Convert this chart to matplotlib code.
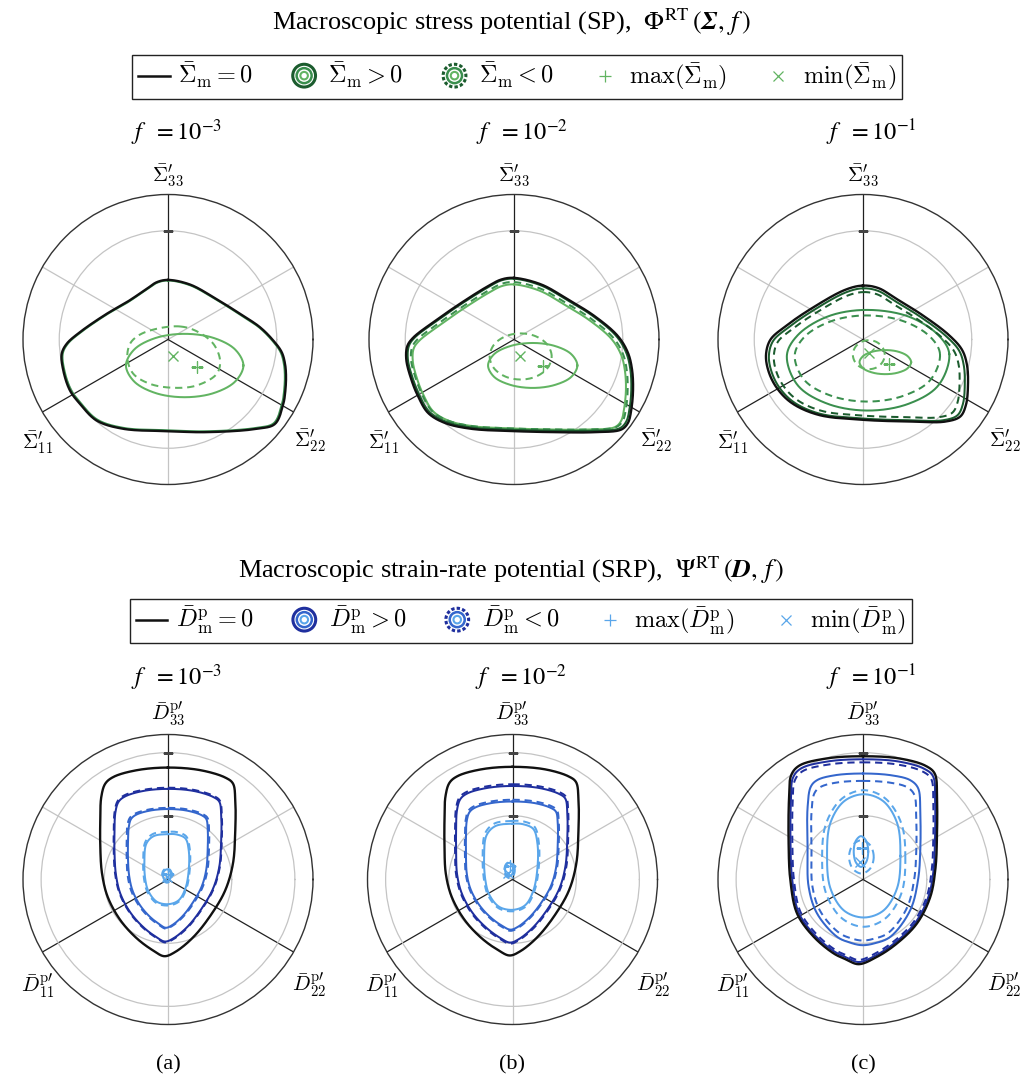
import numpy as np
import matplotlib
matplotlib.use("Agg")
import matplotlib.pyplot as plt
from matplotlib.lines import Line2D
from matplotlib.patches import Circle
from matplotlib.legend_handler import HandlerBase
from matplotlib.mathtext import MathTextParser
from matplotlib.font_manager import FontProperties

plt.rcParams["mathtext.fontset"] = "cm"
plt.rcParams["font.family"] = ["Liberation Serif", "DejaVu Serif"]

# ---------------------------------------------------------------------------
# Yield-surface traces in the deviatoric plane, (x, y) in units of the outer
# circle radius.  x points right, y points up (towards the 33 axis).
# ---------------------------------------------------------------------------

# ---- stress potential, f = 1e-3 -------------------------------------------
SP_A_ZERO = [(0.000, 0.411), (0.152, 0.379), (0.313, 0.292), (0.497, 0.177), (0.634, 0.085),
             (0.726, -0.007), (0.784, -0.087), (0.807, -0.168), (0.814, -0.260), (0.807, -0.375),
             (0.795, -0.444), (0.738, -0.582), (0.611, -0.616), (0.267, -0.639), (0.000, -0.632),
             (-0.308, -0.616), (-0.492, -0.559), (-0.607, -0.444), (-0.676, -0.352), (-0.722, -0.214),
             (-0.733, -0.099), (-0.699, -0.030), (-0.607, 0.051), (-0.423, 0.177), (-0.285, 0.257),
             (-0.147, 0.349), (-0.078, 0.395)]
SP_A_POS2 = [(0.000, 0.407), (0.150, 0.375), (0.310, 0.289), (0.492, 0.175), (0.628, 0.084),
             (0.719, -0.007), (0.776, -0.086), (0.799, -0.166), (0.806, -0.257), (0.799, -0.371),
             (0.787, -0.440), (0.731, -0.576), (0.605, -0.610), (0.264, -0.633), (0.000, -0.626),
             (-0.305, -0.610), (-0.487, -0.553), (-0.601, -0.440), (-0.669, -0.348), (-0.715, -0.212),
             (-0.726, -0.098), (-0.692, -0.030), (-0.601, 0.050), (-0.419, 0.175), (-0.282, 0.254),
             (-0.146, 0.346), (-0.077, 0.391)]
SP_A_POS3 = [(0.520, -0.179), (0.464, -0.070), (0.317, 0.010), (0.115, 0.039), (-0.087, 0.010),
             (-0.234, -0.070), (-0.290, -0.179), (-0.234, -0.289), (-0.087, -0.369), (0.115, -0.398),
             (0.317, -0.369), (0.464, -0.289)]
SP_A_NEG3 = [(0.083, 0.090), (0.198, 0.057), (0.313, -0.030), (0.359, -0.145), (0.336, -0.237),
             (0.198, -0.317), (0.037, -0.333), (-0.124, -0.306), (-0.239, -0.237), (-0.280, -0.133),
             (-0.262, -0.030), (-0.200, 0.030), (-0.078, 0.074)]
SP_A_MAX = (0.198, -0.191)
SP_A_MIN = (0.037, -0.115)

# ---- stress potential, f = 1e-2 -------------------------------------------
SP_B_ZERO = [(0.000, 0.425), (0.189, 0.379), (0.372, 0.276), (0.556, 0.161), (0.717, 0.023),
             (0.786, -0.092), (0.814, -0.207), (0.821, -0.345), (0.809, -0.483), (0.786, -0.575),
             (0.740, -0.621), (0.556, -0.639), (0.280, -0.639), (0.000, -0.632), (-0.294, -0.616),
             (-0.478, -0.575), (-0.593, -0.506), (-0.662, -0.391), (-0.708, -0.276), (-0.743, -0.138),
             (-0.736, -0.046), (-0.697, 0.011), (-0.547, 0.126), (-0.363, 0.253), (-0.179, 0.368),
             (-0.087, 0.414)]
SP_B_POS1 = [(0.000, 0.419), (0.186, 0.373), (0.366, 0.272), (0.548, 0.159), (0.706, 0.023),
             (0.774, -0.091), (0.802, -0.204), (0.809, -0.340), (0.797, -0.476), (0.774, -0.566),
             (0.729, -0.612), (0.548, -0.629), (0.276, -0.629), (0.000, -0.623), (-0.290, -0.607),
             (-0.471, -0.566), (-0.584, -0.498), (-0.652, -0.385), (-0.697, -0.272), (-0.732, -0.136),
             (-0.725, -0.045), (-0.687, 0.011), (-0.539, 0.124), (-0.358, 0.249), (-0.176, 0.362),
             (-0.086, 0.408)]
SP_B_NEG1 = [(0.000, 0.396), (0.180, 0.352), (0.355, 0.254), (0.531, 0.144), (0.685, 0.012),
             (0.751, -0.098), (0.777, -0.208), (0.784, -0.339), (0.773, -0.471), (0.751, -0.559),
             (0.707, -0.603), (0.531, -0.620), (0.267, -0.620), (0.000, -0.614), (-0.281, -0.598),
             (-0.456, -0.559), (-0.566, -0.493), (-0.632, -0.383), (-0.676, -0.274), (-0.710, -0.142),
             (-0.703, -0.054), (-0.666, 0.001), (-0.522, 0.110), (-0.347, 0.232), (-0.171, 0.341),
             (-0.083, 0.385)]
SP_B_POS2 = [(0.000, 0.380), (0.178, 0.336), (0.350, 0.239), (0.523, 0.131), (0.674, 0.002),
             (0.739, -0.106), (0.765, -0.215), (0.772, -0.344), (0.760, -0.474), (0.739, -0.561),
             (0.696, -0.604), (0.523, -0.621), (0.263, -0.621), (0.000, -0.614), (-0.276, -0.599),
             (-0.449, -0.561), (-0.557, -0.496), (-0.622, -0.388), (-0.666, -0.279), (-0.698, -0.150),
             (-0.692, -0.063), (-0.655, -0.010), (-0.514, 0.098), (-0.341, 0.218), (-0.168, 0.326),
             (-0.082, 0.369)]
SP_B_POS3 = [(0.437, -0.179), (0.396, -0.102), (0.283, -0.045), (0.129, -0.024), (-0.025, -0.045),
             (-0.138, -0.102), (-0.179, -0.179), (-0.138, -0.257), (-0.025, -0.313), (0.129, -0.334),
             (0.283, -0.313), (0.396, -0.257)]
SP_B_NEG3 = [(0.260, -0.117), (0.231, -0.037), (0.153, 0.021), (0.046, 0.042), (-0.061, 0.021),
             (-0.139, -0.037), (-0.168, -0.117), (-0.139, -0.197), (-0.061, -0.255), (0.046, -0.276),
             (0.153, -0.255), (0.231, -0.197)]
SP_B_MAX = (0.200, -0.184)
SP_B_MIN = (0.039, -0.115)

# ---- stress potential, f = 1e-1 -------------------------------------------
SP_C_ZERO = [(0.000, 0.372), (0.108, 0.354), (0.223, 0.285), (0.407, 0.170), (0.591, 0.032),
             (0.683, -0.071), (0.717, -0.175), (0.724, -0.313), (0.710, -0.451), (0.671, -0.531),
             (0.568, -0.566), (0.338, -0.566), (0.000, -0.554), (-0.306, -0.520), (-0.490, -0.439),
             (-0.593, -0.336), (-0.651, -0.221), (-0.669, -0.106), (-0.639, -0.002), (-0.536, 0.090),
             (-0.352, 0.216), (-0.122, 0.343)]
SP_C_POS1 = [(0.000, 0.353), (0.105, 0.335), (0.216, 0.268), (0.395, 0.157), (0.573, 0.023),
             (0.663, -0.077), (0.695, -0.178), (0.702, -0.312), (0.689, -0.445), (0.651, -0.523),
             (0.551, -0.557), (0.328, -0.557), (0.000, -0.545), (-0.297, -0.512), (-0.475, -0.434),
             (-0.575, -0.334), (-0.631, -0.222), (-0.649, -0.111), (-0.620, -0.010), (-0.520, 0.079),
             (-0.341, 0.202), (-0.118, 0.325)]
SP_C_NEG1 = [(0.000, 0.327), (0.099, 0.311), (0.205, 0.247), (0.374, 0.141), (0.544, 0.014),
             (0.628, -0.080), (0.660, -0.176), (0.666, -0.303), (0.653, -0.430), (0.617, -0.504),
             (0.523, -0.536), (0.311, -0.536), (0.000, -0.525), (-0.282, -0.493), (-0.451, -0.419),
             (-0.546, -0.324), (-0.599, -0.218), (-0.615, -0.113), (-0.588, -0.017), (-0.493, 0.068),
             (-0.324, 0.184), (-0.112, 0.301)]
SP_C_POS2 = [(0.595, -0.100), (0.520, 0.030), (0.315, 0.158), (0.020, 0.204), (-0.245, 0.158),
             (-0.450, 0.030), (-0.525, -0.110), (-0.450, -0.316), (-0.245, -0.443), (0.035, -0.490),
             (0.315, -0.443), (0.520, -0.316)]
SP_C_NEG2 = [(0.531, -0.100), (0.464, 0.018), (0.280, 0.126), (0.020, 0.166), (-0.220, 0.126),
             (-0.404, 0.018), (-0.471, -0.110), (-0.404, -0.280), (-0.220, -0.388), (0.030, -0.428),
             (0.280, -0.388), (0.464, -0.280)]
SP_C_POS3 = [(0.332, -0.156), (0.308, -0.115), (0.243, -0.084), (0.154, -0.073), (0.065, -0.084),
             (0.000, -0.115), (-0.024, -0.156), (0.000, -0.198), (0.065, -0.228), (0.154, -0.239),
             (0.243, -0.228), (0.308, -0.198)]
SP_C_NEG3 = [(0.150, -0.105), (0.135, -0.055), (0.095, -0.018), (0.040, -0.005), (-0.015, -0.018),
             (-0.055, -0.055), (-0.070, -0.105), (-0.055, -0.155), (-0.015, -0.192), (0.040, -0.205),
             (0.095, -0.192), (0.135, -0.155)]
SP_C_MAX = (0.182, -0.170)
SP_C_MIN = (0.044, -0.094)

# ---- strain-rate potential, f = 1e-3 --------------------------------------
SRP_A_ZERO = [(0.000, 0.772), (0.223, 0.754), (0.395, 0.703), (0.448, 0.662), (0.464, 0.547),
              (0.464, 0.340), (0.448, 0.110), (0.395, -0.074), (0.303, -0.234), (0.177, -0.395),
              (0.051, -0.499), (-0.025, -0.529), (-0.099, -0.492), (-0.214, -0.407), (-0.329, -0.280),
              (-0.416, -0.120), (-0.455, 0.041), (-0.467, 0.225), (-0.467, 0.409), (-0.460, 0.570),
              (-0.432, 0.662), (-0.375, 0.708), (-0.214, 0.754)]
SRP_A_POS1 = [(0.000, 0.625), (0.176, 0.611), (0.312, 0.569), (0.354, 0.536), (0.367, 0.443),
              (0.367, 0.275), (0.354, 0.089), (0.312, -0.060), (0.239, -0.190), (0.140, -0.320),
              (0.040, -0.404), (-0.020, -0.428), (-0.078, -0.399), (-0.169, -0.330), (-0.260, -0.227),
              (-0.329, -0.097), (-0.359, 0.033), (-0.369, 0.182), (-0.369, 0.331), (-0.363, 0.462),
              (-0.341, 0.536), (-0.296, 0.573), (-0.169, 0.611)]
SRP_A_NEG1 = [(0.000, 0.633), (0.178, 0.618), (0.316, 0.576), (0.358, 0.543), (0.371, 0.449),
              (0.371, 0.279), (0.358, 0.090), (0.316, -0.061), (0.242, -0.192), (0.142, -0.324),
              (0.041, -0.409), (-0.020, -0.434), (-0.079, -0.403), (-0.171, -0.334), (-0.263, -0.230),
              (-0.333, -0.098), (-0.364, 0.034), (-0.374, 0.185), (-0.374, 0.335), (-0.368, 0.467),
              (-0.346, 0.543), (-0.300, 0.581), (-0.171, 0.618)]
SRP_A_POS2 = [(0.000, 0.486), (0.132, 0.475), (0.233, 0.443), (0.264, 0.417), (0.274, 0.345),
              (0.274, 0.214), (0.264, 0.069), (0.233, -0.047), (0.179, -0.147), (0.104, -0.249),
              (0.030, -0.314), (-0.015, -0.333), (-0.058, -0.310), (-0.126, -0.256), (-0.194, -0.176),
              (-0.245, -0.076), (-0.268, 0.026), (-0.276, 0.142), (-0.276, 0.258), (-0.271, 0.359),
              (-0.255, 0.417), (-0.221, 0.446), (-0.126, 0.475)]
SRP_A_NEG2 = [(0.000, 0.494), (0.136, 0.483), (0.241, 0.450), (0.273, 0.424), (0.283, 0.350),
              (0.283, 0.218), (0.273, 0.070), (0.241, -0.047), (0.185, -0.150), (0.108, -0.253),
              (0.031, -0.319), (-0.015, -0.339), (-0.060, -0.315), (-0.131, -0.260), (-0.201, -0.179),
              (-0.254, -0.077), (-0.278, 0.026), (-0.285, 0.144), (-0.285, 0.262), (-0.281, 0.365),
              (-0.264, 0.424), (-0.229, 0.453), (-0.131, 0.483)]
SRP_A_POS3 = [(0.000, 0.313), (-0.099, 0.299), (-0.149, 0.248), (-0.163, 0.133), (-0.156, -0.005),
              (-0.133, -0.085), (-0.076, -0.154), (0.005, -0.170), (0.074, -0.143), (0.120, -0.062),
              (0.143, 0.064), (0.143, 0.202), (0.120, 0.283), (0.062, 0.310)]
SRP_A_NEG3 = [(0.000, 0.329), (-0.104, 0.314), (-0.156, 0.260), (-0.171, 0.140), (-0.164, -0.005),
              (-0.140, -0.089), (-0.080, -0.162), (0.005, -0.179), (0.078, -0.150), (0.126, -0.065),
              (0.150, 0.067), (0.150, 0.212), (0.126, 0.297), (0.065, 0.326)]
SRP_A_POS4 = [(0.021, 0.030), (0.013, 0.058), (-0.007, 0.070), (-0.027, 0.058), (-0.035, 0.030),
              (-0.027, 0.002), (-0.007, -0.010), (0.013, 0.002)]
SRP_A_NEG4 = [(0.027, 0.028), (0.017, 0.063), (-0.007, 0.078), (-0.031, 0.063), (-0.041, 0.028),
              (-0.031, -0.007), (-0.007, -0.022), (0.017, -0.007)]
SRP_A_MAX = (0.000, 0.035)
SRP_A_MIN = (-0.007, 0.020)

# ---- strain-rate potential, f = 1e-2 --------------------------------------
SRP_B_ZERO = [(0.000, 0.777), (0.223, 0.760), (0.385, 0.712), (0.438, 0.672), (0.455, 0.555),
              (0.455, 0.340), (0.440, 0.110), (0.390, -0.074), (0.300, -0.234), (0.177, -0.392),
              (0.055, -0.494), (-0.020, -0.524), (-0.096, -0.489), (-0.214, -0.404), (-0.331, -0.278),
              (-0.420, -0.118), (-0.460, 0.041), (-0.469, 0.225), (-0.469, 0.409), (-0.462, 0.575),
              (-0.434, 0.668), (-0.377, 0.714), (-0.214, 0.760)]
SRP_B_POS1 = [(0.000, 0.645), (0.185, 0.631), (0.320, 0.591), (0.364, 0.558), (0.378, 0.461),
              (0.378, 0.282), (0.365, 0.091), (0.324, -0.061), (0.249, -0.194), (0.147, -0.325),
              (0.046, -0.410), (-0.017, -0.435), (-0.080, -0.406), (-0.178, -0.335), (-0.275, -0.231),
              (-0.349, -0.098), (-0.382, 0.034), (-0.389, 0.187), (-0.389, 0.339), (-0.383, 0.477),
              (-0.360, 0.554), (-0.313, 0.593), (-0.178, 0.631)]
SRP_B_NEG1 = [(0.000, 0.657), (0.188, 0.642), (0.325, 0.602), (0.370, 0.568), (0.384, 0.469),
              (0.384, 0.287), (0.372, 0.093), (0.330, -0.063), (0.254, -0.198), (0.150, -0.331),
              (0.046, -0.417), (-0.017, -0.443), (-0.081, -0.413), (-0.181, -0.341), (-0.280, -0.235),
              (-0.355, -0.100), (-0.389, 0.035), (-0.396, 0.190), (-0.396, 0.346), (-0.390, 0.486),
              (-0.367, 0.564), (-0.319, 0.603), (-0.181, 0.642)]
SRP_B_POS2 = [(0.000, 0.538), (0.153, 0.527), (0.264, 0.494), (0.300, 0.467), (0.312, 0.387),
              (0.312, 0.241), (0.301, 0.085), (0.267, -0.040), (0.206, -0.149), (0.121, -0.257),
              (0.038, -0.326), (-0.014, -0.346), (-0.066, -0.323), (-0.147, -0.265), (-0.227, -0.179),
              (-0.288, -0.070), (-0.315, 0.038), (-0.321, 0.163), (-0.321, 0.288), (-0.316, 0.401),
              (-0.297, 0.464), (-0.258, 0.496), (-0.147, 0.527)]
SRP_B_NEG2 = [(0.000, 0.550), (0.156, 0.538), (0.270, 0.505), (0.307, 0.477), (0.319, 0.396),
              (0.319, 0.246), (0.308, 0.086), (0.273, -0.041), (0.210, -0.153), (0.124, -0.262),
              (0.039, -0.333), (-0.014, -0.354), (-0.067, -0.330), (-0.150, -0.271), (-0.232, -0.183),
              (-0.294, -0.072), (-0.322, 0.038), (-0.328, 0.166), (-0.328, 0.294), (-0.323, 0.410),
              (-0.304, 0.474), (-0.264, 0.506), (-0.150, 0.538)]
SRP_B_POS3 = [(0.000, 0.385), (-0.119, 0.368), (-0.179, 0.305), (-0.196, 0.164), (-0.187, -0.006),
              (-0.160, -0.105), (-0.091, -0.189), (0.006, -0.209), (0.089, -0.176), (0.144, -0.076),
              (0.172, 0.079), (0.172, 0.248), (0.144, 0.348), (0.074, 0.381)]
SRP_B_NEG3 = [(0.000, 0.404), (-0.125, 0.386), (-0.188, 0.320), (-0.206, 0.172), (-0.196, -0.006),
              (-0.168, -0.110), (-0.096, -0.198), (0.006, -0.219), (0.093, -0.185), (0.151, -0.080),
              (0.181, 0.083), (0.181, 0.260), (0.151, 0.365), (0.078, 0.400)]
SRP_B_POS4 = [(0.005, 0.069), (-0.003, 0.102), (-0.023, 0.115), (-0.043, 0.102), (-0.051, 0.069),
              (-0.043, 0.036), (-0.023, 0.023), (-0.003, 0.036)]
SRP_B_NEG4 = [(0.016, 0.065), (0.005, 0.105), (-0.020, 0.121), (-0.045, 0.105), (-0.056, 0.065),
              (-0.045, 0.025), (-0.020, 0.009), (0.005, 0.025)]
SRP_B_MAX = (-0.016, 0.092)
SRP_B_MIN = (-0.028, 0.046)

# ---- strain-rate potential, f = 1e-1 --------------------------------------
SRP_C_ZERO = [(0.000, 0.850), (0.250, 0.835), (0.430, 0.785), (0.495, 0.730), (0.510, 0.560),
              (0.510, 0.300), (0.500, 0.080), (0.464, -0.120), (0.372, -0.303), (0.234, -0.441),
              (0.097, -0.533), (-0.030, -0.584), (-0.120, -0.550), (-0.202, -0.510), (-0.340, -0.395),
              (-0.455, -0.234), (-0.501, -0.005), (-0.513, 0.250), (-0.510, 0.560), (-0.495, 0.720),
              (-0.440, 0.785), (-0.250, 0.835)]
SRP_C_POS1 = [(0.000, 0.829), (0.244, 0.814), (0.419, 0.765), (0.483, 0.712), (0.497, 0.546),
              (0.497, 0.293), (0.488, 0.078), (0.452, -0.117), (0.363, -0.295), (0.228, -0.430),
              (0.095, -0.520), (-0.029, -0.569), (-0.117, -0.536), (-0.197, -0.497), (-0.332, -0.385),
              (-0.444, -0.228), (-0.488, -0.005), (-0.500, 0.244), (-0.497, 0.546), (-0.483, 0.702),
              (-0.429, 0.765), (-0.244, 0.814)]
SRP_C_NEG1 = [(0.000, 0.808), (0.238, 0.793), (0.409, 0.746), (0.470, 0.694), (0.485, 0.532),
              (0.485, 0.285), (0.475, 0.076), (0.441, -0.114), (0.353, -0.288), (0.222, -0.419),
              (0.092, -0.506), (-0.029, -0.555), (-0.114, -0.523), (-0.192, -0.485), (-0.323, -0.375),
              (-0.432, -0.222), (-0.476, -0.005), (-0.487, 0.238), (-0.485, 0.532), (-0.470, 0.684),
              (-0.418, 0.746), (-0.238, 0.793)]
SRP_C_POS2 = [(0.000, 0.731), (0.200, 0.718), (0.326, 0.685), (0.380, 0.630), (0.395, 0.455),
              (0.395, 0.200), (0.380, 0.000), (0.326, -0.211), (0.189, -0.395), (0.080, -0.440),
              (-0.007, -0.453), (-0.090, -0.435), (-0.179, -0.395), (-0.317, -0.234), (-0.375, -0.050),
              (-0.382, 0.200), (-0.382, 0.500), (-0.360, 0.640), (-0.317, 0.685), (-0.200, 0.718)]
SRP_C_NEG2 = [(0.000, 0.680), (0.186, 0.668), (0.303, 0.637), (0.353, 0.586), (0.367, 0.423),
              (0.367, 0.186), (0.353, 0.000), (0.303, -0.196), (0.176, -0.367), (0.074, -0.409),
              (-0.007, -0.421), (-0.084, -0.405), (-0.166, -0.367), (-0.295, -0.218), (-0.349, -0.047),
              (-0.355, 0.186), (-0.355, 0.465), (-0.335, 0.595), (-0.295, 0.637), (-0.186, 0.668)]
SRP_C_POS3 = [(0.258, 0.163), (0.235, 0.390), (0.140, 0.540), (0.005, 0.588), (-0.130, 0.540),
              (-0.225, 0.390), (-0.248, 0.163), (-0.225, -0.060), (-0.130, -0.215), (0.005, -0.262),
              (0.140, -0.215), (0.235, -0.060)]
SRP_C_NEG3 = [(0.292, 0.145), (0.265, 0.385), (0.155, 0.558), (0.005, 0.616), (-0.145, 0.558),
              (-0.255, 0.385), (-0.282, 0.145), (-0.255, -0.095), (-0.145, -0.268), (0.005, -0.326),
              (0.155, -0.268), (0.265, -0.095)]
SRP_C_POS4 = [(0.036, 0.193), (0.021, 0.268), (-0.014, 0.299), (-0.049, 0.268), (-0.064, 0.193),
              (-0.049, 0.118), (-0.014, 0.087), (0.021, 0.118)]
SRP_C_NEG4 = [(0.074, 0.156), (0.049, 0.237), (-0.011, 0.271), (-0.071, 0.237), (-0.096, 0.156),
              (-0.071, 0.075), (-0.011, 0.041), (0.049, 0.075)]
SRP_C_MAX = (-0.007, 0.214)
SRP_C_MIN = (-0.018, 0.122)


def _has_bfit():
    try:
        MathTextParser("path").parse(r"$\mathbfit{\Sigma}$",
                                     prop=FontProperties(math_fontfamily="stix"))
        return True
    except Exception:
        return False


BFIT = r"\mathbfit" if _has_bfit() else r"\boldsymbol"

# Labels
POROSITY_LABELS = [r"$f\ \ {=}10^{-3}$", r"$f\ \ {=}10^{-2}$", r"$f\ \ {=}10^{-1}$"]
PANEL_TAGS = ["(a)", "(b)", "(c)"]
SP_AXIS_LABELS = [r"$\bar{\Sigma}^{\prime}_{33}$", r"$\bar{\Sigma}^{\prime}_{11}$",
                  r"$\bar{\Sigma}^{\prime}_{22}$"]
SRP_AXIS_LABELS = [r"$\bar{D}^{\mathrm{p}\prime}_{33}$", r"$\bar{D}^{\mathrm{p}\prime}_{11}$",
                   r"$\bar{D}^{\mathrm{p}\prime}_{22}$"]
SP_LEGEND = [r"$\bar{\Sigma}_{\mathrm{m}}=0$", r"$\bar{\Sigma}_{\mathrm{m}}>0$",
             r"$\bar{\Sigma}_{\mathrm{m}}<0$", r"$\max(\bar{\Sigma}_{\mathrm{m}})$",
             r"$\min(\bar{\Sigma}_{\mathrm{m}})$"]
SRP_LEGEND = [r"$\bar{D}^{\mathrm{p}}_{\mathrm{m}}=0$", r"$\bar{D}^{\mathrm{p}}_{\mathrm{m}}>0$",
              r"$\bar{D}^{\mathrm{p}}_{\mathrm{m}}<0$", r"$\max(\bar{D}^{\mathrm{p}}_{\mathrm{m}})$",
              r"$\min(\bar{D}^{\mathrm{p}}_{\mathrm{m}})$"]
SP_TITLE = (r"Macroscopic stress potential (SP),  $\Phi^{\mathrm{RT}}\,(" + BFIT
            + r"{\Sigma},\, f\,)$")
SRP_TITLE = (r"Macroscopic strain-rate potential (SRP),  $\Psi^{\mathrm{RT}}\,(" + BFIT
             + r"{D},\, f\,)$")

# ---------------------------------------------------------------------------
# Styling
# ---------------------------------------------------------------------------
GREENS = ["#1b5c2e", "#3a8f4e", "#62b462"]
BLUES = ["#1f2f9e", "#3466cc", "#5aa6ea"]
BLACK = "#111111"
DASH = (0, (3.6, 2.4))

W, H = 1022, 1084
TOP_CX, TOP_CY = [168, 514, 863], 339.5
BOT_CX, BOT_CY = [168, 512.5, 863], 879.5
RAD = 145.0


def smooth_loop(points, n=30):
    """Closed centripetal Catmull-Rom curve through the given (x, y) points."""
    P = np.asarray(points, float)
    m = len(P)
    segs = []
    for i in range(m):
        p0, p1, p2, p3 = P[(i - 1) % m], P[i], P[(i + 1) % m], P[(i + 2) % m]
        t0 = 0.0
        t1 = t0 + np.linalg.norm(p1 - p0) ** 0.5
        t2 = t1 + np.linalg.norm(p2 - p1) ** 0.5
        t3 = t2 + np.linalg.norm(p3 - p2) ** 0.5
        t = np.linspace(t1, t2, n, endpoint=False)[:, None]
        a1 = (t1 - t) / (t1 - t0) * p0 + (t - t0) / (t1 - t0) * p1
        a2 = (t2 - t) / (t2 - t1) * p1 + (t - t1) / (t2 - t1) * p2
        a3 = (t3 - t) / (t3 - t2) * p2 + (t - t2) / (t3 - t2) * p3
        b1 = (t2 - t) / (t2 - t0) * a1 + (t - t0) / (t2 - t0) * a2
        b2 = (t3 - t) / (t3 - t1) * a2 + (t - t1) / (t3 - t1) * a3
        segs.append((t2 - t) / (t2 - t1) * b1 + (t - t1) / (t2 - t1) * b2)
    segs.append(P[:1])
    return np.vstack(segs)


def to_polar(xy):
    xy = np.atleast_2d(np.asarray(xy, float))
    return np.unwrap(np.arctan2(xy[:, 1], xy[:, 0])), np.hypot(xy[:, 0], xy[:, 1])


def make_axes(fig, cx, cy, rgrid):
    ax = fig.add_axes([(cx - RAD) / W, (H - cy - RAD) / H, 2 * RAD / W, 2 * RAD / H],
                      projection="polar")
    ax.set_ylim(0, 1)
    ax.set_thetagrids([30, 90, 150, 210, 270, 330], labels=[""] * 6)
    ax.set_rgrids(rgrid, labels=[""] * len(rgrid))
    ax.tick_params(axis="both", length=0)
    ax.grid(True)
    for tick in ax.yaxis.get_major_ticks():
        tick.gridline.set_color("#c4c4c4")
        tick.gridline.set_linewidth(0.9)
    for tick in ax.xaxis.get_major_ticks():
        deg = round(np.degrees(tick.get_loc())) % 360
        if deg in (90, 210, 330):
            tick.gridline.set_color("#202020")
        else:
            tick.gridline.set_color("#c4c4c4")
        tick.gridline.set_linewidth(0.9)
    ax.spines["polar"].set_color("#333333")
    ax.spines["polar"].set_linewidth(1.0)
    ax.plot(np.full(len(rgrid), np.pi / 2), rgrid, ls="none", marker="_", ms=7, mew=1.0,
            color="#444444", zorder=2)
    return ax


def draw_loop(ax, pts, color, dashed=False, lw=1.4, z=3):
    th, r = to_polar(smooth_loop(pts))
    ax.plot(th, r, color=color, lw=lw, ls=DASH if dashed else "-", zorder=z,
            solid_joinstyle="round", dash_capstyle="butt")


def draw_extrema(ax, pmax, pmin, color):
    th, r = to_polar([pmax])
    ax.plot(th, r, ls="none", marker="+", ms=9, mew=1.0, color=color, zorder=6)
    th, r = to_polar([pmin])
    ax.plot(th, r, ls="none", marker="x", ms=6.5, mew=1.0, color=color, zorder=6)


def axis_labels(ax, labels, spots):
    for lab, (deg, rr) in zip(labels, spots):
        ax.text(np.radians(deg), rr, lab, ha="center", va="center", fontsize=15,
                clip_on=False)


class RingKey:
    pass


class RingsHandler(HandlerBase):
    def __init__(self, colors, dashed):
        super().__init__()
        self.colors = colors
        self.dashed = dashed

    def create_artists(self, legend, orig_handle, xdescent, ydescent, width, height,
                       fontsize, trans):
        cx, cy = width / 2 - xdescent, height / 2 - ydescent
        arts = []
        for rad, col, lw in zip([8.2, 5.4, 2.7], self.colors, [2.2, 1.8, 1.5]):
            ls = (0, (1.1, 0.7)) if (self.dashed and rad > 8) else "-"
            arts.append(Circle((cx, cy), rad, fill=False, ec=col, lw=lw, ls=ls,
                               transform=trans))
        return arts


def add_legend(fig, cx, cy, labels, colors, light):
    zero = Line2D([], [], color=BLACK, lw=1.8)
    pos_key, neg_key = RingKey(), RingKey()
    mx = Line2D([], [], ls="none", marker="+", ms=9, mew=0.9, color=light)
    mn = Line2D([], [], ls="none", marker="x", ms=6.5, mew=0.9, color=light)
    leg = fig.legend([zero, pos_key, neg_key, mx, mn], labels,
                     handler_map={pos_key: RingsHandler(colors, False),
                                  neg_key: RingsHandler(colors, True)},
                     loc="center", bbox_to_anchor=(cx / W, 1 - cy / H), ncol=5,
                     frameon=True, fancybox=False, edgecolor="#222222", framealpha=1,
                     fontsize=17.5, handlelength=1.3, handletextpad=0.35,
                     columnspacing=1.45, borderpad=0.24, borderaxespad=0.0)
    leg.get_frame().set_linewidth(1.0)
    return leg


fig = plt.figure(figsize=(W / 100, H / 100), dpi=100)
fig.patch.set_facecolor("white")

# ---- titles and legends ----------------------------------------------------
fig.text(0.5, 1 - 22 / H, SP_TITLE, ha="center", va="center", fontsize=18.9,
         math_fontfamily="stix")
fig.text(0.5, 1 - 570 / H, SRP_TITLE, ha="center", va="center", fontsize=18.9,
         math_fontfamily="stix")
add_legend(fig, 517, 77, SP_LEGEND, GREENS, GREENS[2])
add_legend(fig, 521, 621, SRP_LEGEND, BLUES, BLUES[2])

# ---- stress potential row ---------------------------------------------------
sp_panels = [
    [(SP_A_POS3, GREENS[2], False), (SP_A_NEG3, GREENS[2], True),
     (SP_A_POS2, GREENS[1], False)],
    [(SP_B_POS3, GREENS[2], False), (SP_B_NEG3, GREENS[2], True),
     (SP_B_POS2, GREENS[2], False), (SP_B_NEG1, GREENS[1], True),
     (SP_B_POS1, GREENS[0], False)],
    [(SP_C_POS3, GREENS[2], False), (SP_C_NEG3, GREENS[2], True),
     (SP_C_POS2, GREENS[1], False), (SP_C_NEG2, GREENS[1], True),
     (SP_C_NEG1, GREENS[0], True), (SP_C_POS1, GREENS[0], False)],
]
sp_zero = [SP_A_ZERO, SP_B_ZERO, SP_C_ZERO]
sp_ext = [(SP_A_MAX, SP_A_MIN), (SP_B_MAX, SP_B_MIN), (SP_C_MAX, SP_C_MIN)]

for i in range(3):
    ax = make_axes(fig, TOP_CX[i], TOP_CY, [0.75])
    for z, (pts, col, dsh) in enumerate(sp_panels[i]):
        draw_loop(ax, pts, col, dsh, lw=1.45, z=3 + 0.1 * z)
    draw_loop(ax, sp_zero[i], BLACK, False, lw=1.7, z=5)
    draw_extrema(ax, *sp_ext[i], GREENS[2])
    axis_labels(ax, SP_AXIS_LABELS, [(90, 1.13), (218.4, 1.145), (324.4, 1.2)])
    fig.text(TOP_CX[i] / W + 0.008, 1 - 133 / H, POROSITY_LABELS[i], ha="center",
             va="center", fontsize=17.5, math_fontfamily="stix")

# ---- strain-rate potential row ---------------------------------------------
srp_panels = [
    [(SRP_A_POS4, BLUES[2], False), (SRP_A_NEG4, BLUES[2], True),
     (SRP_A_POS3, BLUES[2], False), (SRP_A_NEG3, BLUES[2], True),
     (SRP_A_POS2, BLUES[1], False), (SRP_A_NEG2, BLUES[1], True),
     (SRP_A_POS1, BLUES[0], False), (SRP_A_NEG1, BLUES[0], True)],
    [(SRP_B_POS4, BLUES[2], False), (SRP_B_NEG4, BLUES[2], True),
     (SRP_B_POS3, BLUES[2], False), (SRP_B_NEG3, BLUES[2], True),
     (SRP_B_POS2, BLUES[1], False), (SRP_B_NEG2, BLUES[1], True),
     (SRP_B_POS1, BLUES[0], False), (SRP_B_NEG1, BLUES[0], True)],
    [(SRP_C_POS4, BLUES[2], False), (SRP_C_NEG4, BLUES[2], True),
     (SRP_C_POS3, BLUES[2], False), (SRP_C_NEG3, BLUES[2], True),
     (SRP_C_POS2, BLUES[1], False), (SRP_C_NEG2, BLUES[1], True),
     (SRP_C_POS1, BLUES[0], False), (SRP_C_NEG1, BLUES[0], True)],
]
srp_zero = [SRP_A_ZERO, SRP_B_ZERO, SRP_C_ZERO]
srp_ext = [(SRP_A_MAX, SRP_A_MIN), (SRP_B_MAX, SRP_B_MIN), (SRP_C_MAX, SRP_C_MIN)]

for i in range(3):
    ax = make_axes(fig, BOT_CX[i], BOT_CY, [0.44, 0.875])
    for z, (pts, col, dsh) in enumerate(srp_panels[i]):
        draw_loop(ax, pts, col, dsh, lw=1.45, z=3 + 0.1 * z)
    draw_loop(ax, srp_zero[i], BLACK, False, lw=1.7, z=5)
    draw_extrema(ax, *srp_ext[i], BLUES[2])
    axis_labels(ax, SRP_AXIS_LABELS, [(90, 1.145), (219.0, 1.16), (323.4, 1.21)])
    fig.text(BOT_CX[i] / W + 0.008, 1 - 678 / H, POROSITY_LABELS[i], ha="center",
             va="center", fontsize=17.5, math_fontfamily="stix")
    fig.text(BOT_CX[i] / W, 1 - 1065 / H, PANEL_TAGS[i], ha="center", va="center",
             fontsize=16)

fig.savefig("out.png", dpi=100, facecolor="white")
